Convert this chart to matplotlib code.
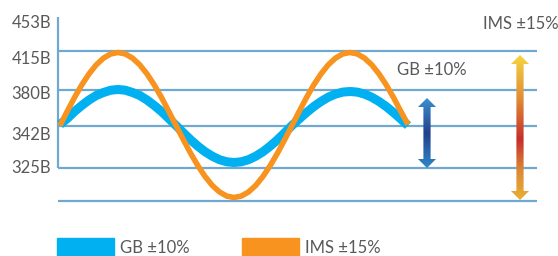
import matplotlib
matplotlib.use("Agg")
import matplotlib.pyplot as plt
import numpy as np
from matplotlib.colors import LinearSegmentedColormap
from matplotlib.patches import Polygon, Rectangle

plt.rcParams["font.family"] = ["Lato", "DejaVu Sans"]

# schematic waves: phase (deg) vs deviation from the centre line
phase = [0, 11.25, 22.5, 33.75, 45, 56.25, 67.5, 78.75, 90,
         101.25, 112.5, 123.75, 135, 146.25, 157.5, 168.75, 180,
         191.25, 202.5, 213.75, 225, 236.25, 247.5, 258.75, 270,
         281.25, 292.5, 303.75, 315, 326.25, 337.5, 348.75, 360,
         371.25, 382.5, 393.75, 405, 416.25, 427.5, 438.75, 450,
         461.25, 472.5, 483.75, 495, 506.25, 517.5, 528.75, 540]
gb_wave = [1, 7, 14, 20, 25.5, 30, 33, 35.3, 36,
           35.3, 33, 30, 25.5, 20, 14, 7, 0,
           -7.2, -14.2, -20.6, -26.2, -30.7, -34.2, -36.3, -37,
           -36.3, -34.2, -30.7, -26.2, -20.6, -14.2, -7.2, 0,
           6.6, 13, 18.9, 24, 28.3, 31.4, 33.4, 34,
           33.4, 31.4, 28.3, 24, 18.9, 13, 6.6, 0]
ims_wave = [0, 14.2, 28, 40.6, 51.6, 60.7, 67.4, 71.6, 73,
            71.6, 67.4, 60.7, 51.6, 40.6, 28, 14.2, 0,
            -14, -27.6, -40, -50.9, -59.9, -66.5, -70.6, -72,
            -70.6, -66.5, -59.9, -50.9, -40, -27.6, -14, 0,
            14.2, 28, 40.6, 51.6, 60.7, 67.4, 71.6, 73,
            71.6, 67.4, 60.7, 51.6, 40.6, 28, 14.2, 1]

levels = [75, 36, 0, -42, -75]
tick_labels = ["453B", "415B", "380B", "342B", "325B"]
tick_pos = [102, 66.5, 31.5, -9.5, -42.5]

gb_range = (27.5, -42.5)
ims_range = (70.5, -74.5)

series_names = ["GB ±10%", "IMS ±15%"]
BLUE = "#00b0f0"
ORANGE = "#f7931e"
GRID = "#6fa8d0"
TEXT = "#595959"

W, H = 558, 256
fig = plt.figure(figsize=(W / 100, H / 100), dpi=100)
ax = fig.add_axes([0, 0, 1, 1])
# map phase 0..540 onto pixels 60..408, deviation 0 onto pixel row 125.5
sx = 348 / 540
XLIM = (-60 / sx, (W - 60) / sx)
YLIM = (125.5 - H, 125.5)
ax.axis("off")


def px(x):
    return (x - 60) / sx


ax.hlines(levels, px(58), px(537), color=GRID, lw=1.6, zorder=1)
ax.vlines(px(58), levels[3], 108.5, color=GRID, lw=1.6, zorder=1)

for y, lab in zip(tick_pos, tick_labels):
    ax.text(px(51), y, lab, ha="right", va="center", fontsize=12, color=TEXT)

ax.plot(phase, gb_wave, color=BLUE, lw=6.5, solid_capstyle="butt",
        solid_joinstyle="round", zorder=3)
ax.plot(phase, ims_wave, color=ORANGE, lw=4, solid_capstyle="butt",
        solid_joinstyle="round", zorder=4)


def grad_arrow(xc, top, bot, colors):
    hw = 9 / sx
    sw = 3.6 / sx
    hl = 9
    pts = [(xc, top), (xc + hw, top - hl), (xc + sw, top - hl),
           (xc + sw, bot + hl), (xc + hw, bot + hl), (xc, bot),
           (xc - hw, bot + hl), (xc - sw, bot + hl), (xc - sw, top - hl),
           (xc - hw, top - hl)]
    poly = Polygon(pts, closed=True, facecolor="none", edgecolor="none")
    ax.add_patch(poly)
    cmap = LinearSegmentedColormap.from_list("g", colors)
    grad = np.linspace(0, 1, 256).reshape(-1, 1)
    im = ax.imshow(grad, cmap=cmap, aspect="auto", origin="upper",
                   extent=(xc - hw, xc + hw, bot, top), zorder=5)
    im.set_clip_path(poly)


grad_arrow(px(427), gb_range[0], gb_range[1],
           [(0, "#3990d0"), (0.5, "#24408c"), (1, "#2e88c8")])
grad_arrow(px(520), ims_range[0], ims_range[1],
           [(0, "#f4d540"), (0.3, "#e08c36"), (0.58, "#c62f2c"),
            (0.8, "#dc8a34"), (1, "#e8b035")])
ax.set_xlim(*XLIM)
ax.set_ylim(*YLIM)

ax.text(px(397), 125.5 - 70, series_names[0], ha="left", va="center",
        fontsize=12, color=TEXT)
ax.text(px(483), 125.5 - 24, series_names[1], ha="left", va="center",
        fontsize=12, color=TEXT)

# legend
for x0, col, name in [(57, BLUE, series_names[0]), (242, ORANGE, series_names[1])]:
    fig.patches.append(Rectangle((x0 / W, 0), 57 / W, 18 / H, color=col,
                                 transform=fig.transFigure))
    fig.text((x0 + 63) / W, 8 / H, name, ha="left", va="center",
             fontsize=12, color=TEXT)

fig.savefig("out.png", dpi=100)
